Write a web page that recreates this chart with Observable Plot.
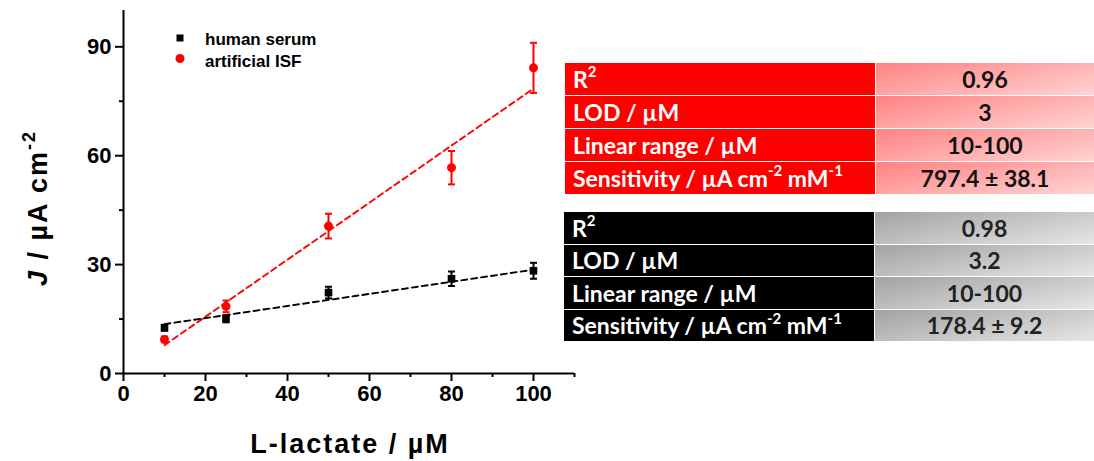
<!DOCTYPE html>
<html>
<head>
<meta charset="utf-8">
<script src="https://cdn.jsdelivr.net/npm/d3@7"></script>
<script src="https://cdn.jsdelivr.net/npm/@observablehq/plot@0.6"></script>
<style>
  html, body { margin: 0; padding: 0; background: #fff; }
  #wrap { position: relative; width: 1094px; height: 461px; overflow: hidden; }
  #chart { position: absolute; left: 0; top: 0; }
  #chart svg g[aria-label$="tick label"] text { font-size: 22px; }
  .tbl { position: absolute; display: grid; row-gap: 1px; column-gap: 1px; font-family: Lato, "Open Sans", sans-serif; font-weight: 700; font-size: 23px; }
  .tbl .lab { display: flex; align-items: center; padding-left: 8px; color: #fff; white-space: nowrap; }
  .tbl .val { display: flex; align-items: center; justify-content: center; white-space: nowrap; }
  .tbl sup { font-size: 15px; line-height: 0; position: relative; top: -2px; }
  .red .lab { background: #ff0000; }
  .red .val { background: linear-gradient(168deg, #ff8282 0%, #ffd3d3 100%); color: #111; }
  .blk .lab { background: #000; }
  .blk .val { background: linear-gradient(168deg, #a2a2a2 0%, #e6e6e6 100%); color: #222; }
</style>
</head>
<body>
<div id="wrap">
  <div id="chart"></div>
</div>
<script>
// ---- data ----
const lactate = [10, 25, 50, 80, 100];            // L-lactate / µM
const serumJ = [12.6, 15.1, 22.3, 26.1, 28.3];     // human serum, J / µA cm-2
const serumErr = [0.8, 1.0, 1.6, 2.0, 2.2];
const isfJ = [9.4, 18.5, 40.6, 56.7, 84.2];        // artificial ISF
const isfErr = [0.8, 1.6, 3.4, 4.6, 6.9];
const fitX = [10, 100];
const serumFit = [13.6, 28.6];
const isfFit = [7.8, 78.5];
const xTicks = [0, 20, 40, 60, 80, 100];
const xMinor = [10, 30, 50, 70, 90, 110];
const yTicks = [0, 30, 60, 90];
const yMinor = [15, 45, 75];
const seriesNames = ["human serum", "artificial ISF"];
const seriesColors = ["#000000", "#ff0000"];
const statLabels = ["R<sup>2</sup>", "LOD / µM", "Linear range / µM", "Sensitivity / µA cm<sup>-2</sup> mM<sup>-1</sup>"];
const isfStats = ["0.96", "3", "10-100", "797.4 ± 38.1"];
const serumStats = ["0.98", "3.2", "10-100", "178.4 ± 9.2"];

const serum = lactate.map((x, i) => ({x, y: serumJ[i], e: serumErr[i]}));
const isf = lactate.map((x, i) => ({x, y: isfJ[i], e: isfErr[i]}));
const serumLine = fitX.map((x, i) => ({x, y: serumFit[i]}));
const isfLine = fitX.map((x, i) => ({x, y: isfFit[i]}));

const capSymbol = { draw(ctx, size) { const w = Math.sqrt(size / Math.PI); ctx.moveTo(-w, 0); ctx.lineTo(w, 0); } };

const errMarks = (data, color) => [
  Plot.ruleX(data, {x: "x", y1: d => d.y - d.e, y2: d => d.y + d.e, stroke: color, strokeWidth: 2}),
  Plot.dot(data, {x: "x", y: d => d.y - d.e, symbol: capSymbol, r: 3.5, stroke: color, strokeWidth: 2, fill: "none"}),
  Plot.dot(data, {x: "x", y: d => d.y + d.e, symbol: capSymbol, r: 3.5, stroke: color, strokeWidth: 2, fill: "none"})
];

const chart = Plot.plot({
  width: 1094, height: 461,
  marginLeft: 123, marginRight: 520, marginTop: 10, marginBottom: 88,
  x: {domain: [0, 110]},
  y: {domain: [0, 100]},
  style: {fontFamily: "'Liberation Sans', Arial, sans-serif", fontWeight: "bold", fontSize: "22px", color: "#000", background: "transparent", overflow: "visible"},
  marks: [
    Plot.ruleY([0], {x1: 0, x2: 110, strokeWidth: 2}),
    Plot.ruleX([0], {y1: 0, y2: 100, strokeWidth: 2}),
    Plot.axisX({ticks: xTicks, tickSize: 8, tickPadding: 4, strokeWidth: 2, label: null}),
    Plot.axisX({ticks: xMinor, tickSize: 4, tickFormat: () => "", strokeWidth: 2, label: null}),
    Plot.axisY({ticks: yTicks, tickSize: 8, tickPadding: 4, strokeWidth: 2, label: null}),
    Plot.axisY({ticks: yMinor, tickSize: 4, tickFormat: () => "", strokeWidth: 2, label: null}),
    Plot.line(isfLine, {x: "x", y: "y", stroke: seriesColors[1], strokeWidth: 1.9, strokeDasharray: "6,4"}),
    Plot.line(serumLine, {x: "x", y: "y", stroke: seriesColors[0], strokeWidth: 1.9, strokeDasharray: "6,4"}),
    ...errMarks(isf, seriesColors[1]),
    Plot.dot(isf, {x: "x", y: "y", r: 4.5, fill: seriesColors[1], stroke: "none"}),
    ...errMarks(serum, seriesColors[0]),
    Plot.dot(serum, {x: "x", y: "y", symbol: "square", r: 4.3, fill: seriesColors[0], stroke: "none"})
  ]
});
document.getElementById("chart").appendChild(chart);

// axis titles and legend
const svg = d3.select(chart);
svg.append("text")
  .attr("x", 350).attr("y", 453)
  .attr("text-anchor", "middle")
  .attr("font-size", 27).attr("font-weight", "bold")
  .attr("font-family", "'Liberation Sans', Arial, sans-serif")
  .attr("letter-spacing", 2)
  .attr("fill", "#000")
  .text("L-lactate / µM");

const yl = svg.append("text")
  .attr("transform", "translate(47,208) rotate(-90)")
  .attr("text-anchor", "middle")
  .attr("font-size", 27).attr("font-weight", "bold")
  .attr("font-family", "'Liberation Sans', Arial, sans-serif")
  .attr("letter-spacing", 2)
  .attr("fill", "#000");
yl.append("tspan").attr("font-style", "italic").text("J");
yl.append("tspan").text(" / µA cm");
yl.append("tspan").attr("font-size", 18).attr("dy", -12).text("-2");

const lg = svg.append("g")
  .attr("font-family", "'Liberation Sans', Arial, sans-serif")
  .attr("font-weight", "bold").attr("font-size", 17)
  .attr("text-anchor", "start");
lg.append("rect").attr("x", 176.5).attr("y", 34.5).attr("width", 7).attr("height", 7).attr("fill", seriesColors[0]);
lg.append("text").attr("x", 205).attr("y", 45).attr("fill", "#000").text(seriesNames[0]);
lg.append("circle").attr("cx", 180).attr("cy", 58.5).attr("r", 4.5).attr("fill", seriesColors[1]);
lg.append("text").attr("x", 205).attr("y", 67).attr("fill", "#000").text(seriesNames[1]);

// statistics tables
function makeTable(cls, left, top, labW, valW, rowH, values) {
  const t = document.createElement("div");
  t.className = "tbl " + cls;
  t.style.left = left + "px";
  t.style.top = top + "px";
  t.style.gridTemplateColumns = labW + "px " + valW + "px";
  t.style.gridAutoRows = rowH + "px";
  statLabels.forEach((lab, i) => {
    const a = document.createElement("div"); a.className = "lab";
    const s = document.createElement("span"); s.innerHTML = lab; a.appendChild(s);
    const b = document.createElement("div"); b.className = "val";
    const s2 = document.createElement("span"); s2.textContent = values[i]; b.appendChild(s2);
    t.appendChild(a); t.appendChild(b);
  });
  document.getElementById("wrap").appendChild(t);
}
makeTable("red", 565, 63, 310, 218, 32, isfStats);
makeTable("blk", 564, 212, 310, 219, 31.5, serumStats);
</script>
</body>
</html>
